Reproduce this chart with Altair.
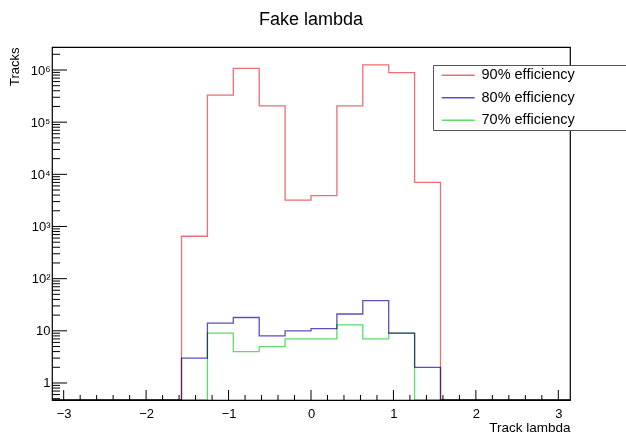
import numpy as np
import pandas as pd
import altair as alt

# ---------------- data ----------------
series = ["90% efficiency", "80% efficiency", "70% efficiency"]
colors = ["#ee6e72", "#5b4fc4", "#5ddc6c"]

n_bins = 20
x_lo, x_hi = -np.pi, np.pi
edges = np.linspace(x_lo, x_hi, n_bins + 1)

eff90 = [0, 0, 0, 0, 0, 650, 330000, 1070000, 205000, 3200,
         3900, 205000, 1250000, 890000, 7000, 0, 0, 0, 0, 0]
eff80 = [0, 0, 0, 0, 0, 3, 14, 18, 8, 10,
         11, 21, 38, 9, 2, 0, 0, 0, 0, 0]
eff70 = [0, 0, 0, 0, 0, 0, 9, 4, 5, 7,
         7, 13, 7, 9, 0, 0, 0, 0, 0, 0]

y_lo, y_hi = 0.472, 2.76e6

x_major = [-3, -2, -1, 0, 1, 2, 3]
x_minor = [v / 10 for v in range(-30, 31, 2) if v % 10 != 0]
y_major = [1, 10, 100, 1e3, 1e4, 1e5, 1e6]
y_minor = [m * 10.0 ** k for k in range(-1, 7) for m in range(2, 10)
           if y_lo <= m * 10.0 ** k <= y_hi]

title_text = "Fake lambda"
x_title = "Track lambda"
y_title = "Tracks"

# ---------------- tables ----------------
rows = []
for name, counts in zip(series, [eff90, eff80, eff70]):
    vals = list(counts) + [counts[-1]]
    for e, c in zip(edges, vals):
        rows.append({"series": name, "edge": float(e), "count": c})
hist = pd.DataFrame(rows)

FONT = "Liberation Sans"
W, H = 518, 353

xscale = alt.Scale(domain=[x_lo, x_hi], nice=False, zero=False)
yscale = alt.Scale(type="log", domain=[y_lo, y_hi], nice=False)

x_axis = alt.Axis(values=x_major, title=x_title, ticks=False, domain=False,
                  grid=False, labelPadding=17, labelBaseline="alphabetic",
                  labelFontSize=13, labelFont=FONT, labelColor="black",
                  titleFont=FONT, titleFontSize=13.5, titleFontWeight="normal",
                  titleAlign="right", titleBaseline="alphabetic",
                  titleX=W, titleY=31, titleColor="black")
y_axis = alt.Axis(values=y_major, title=y_title, ticks=False, domain=False,
                  grid=False, labelPadding=2, labelBaseline="middle",
                  labelFontSize=13, labelFont=FONT, labelColor="black",
                  labelExpr="datum.value < 1.5 ? '1' : datum.value < 15 ? '10' : "
                            "'10' + substring('⁰¹²³⁴⁵⁶⁷⁸⁹', round(log(datum.value)/LN10), round(log(datum.value)/LN10) + 1)",
                  titleFont=FONT, titleFontSize=13, titleFontWeight="normal",
                  titleAngle=270, titleAlign="right", titleBaseline="alphabetic",
                  titleX=-34, titleY=0, titleColor="black")

lines = alt.Chart(hist).transform_calculate(
    yv=f"max(datum.count, {y_lo})"
).mark_line(interpolate="step-after", strokeWidth=1.3, blend="multiply").encode(
    x=alt.X("edge:Q", scale=xscale, axis=x_axis),
    y=alt.Y("yv:Q", scale=yscale, axis=y_axis),
    color=alt.Color("series:N", sort=series,
                    scale=alt.Scale(domain=series, range=colors),
                    legend=alt.Legend(orient="none", legendX=381, legendY=18,
                                      title="l", titleOrient="right", titleOpacity=0,
                                      titleFontSize=14.5, titlePadding=46,
                                      fillColor="white", strokeColor="#555", padding=3,
                                      symbolType="M-3,0H3", symbolSize=121,
                                      symbolOffset=15,
                                      symbolStrokeWidth=1.6, labelFont=FONT,
                                      labelFontSize=14.5, labelOffset=16, rowPadding=7.5,
                                      labelColor="black")),
)

ymaj = alt.Chart(pd.DataFrame({"v": y_major})).mark_rule(color="black", strokeWidth=1).encode(
    y=alt.Y("v:Q", scale=yscale, axis=y_axis), x=alt.value(0), x2=alt.value(15))
ymin = alt.Chart(pd.DataFrame({"v": y_minor})).mark_rule(color="black", strokeWidth=1).encode(
    y=alt.Y("v:Q", scale=yscale, axis=y_axis), x=alt.value(0), x2=alt.value(8))
xmaj = alt.Chart(pd.DataFrame({"v": x_major})).mark_rule(color="black", strokeWidth=1).encode(
    x=alt.X("v:Q", scale=xscale, axis=x_axis), y=alt.value(H), y2=alt.value(H - 10))
xmin = alt.Chart(pd.DataFrame({"v": x_minor})).mark_rule(color="black", strokeWidth=1).encode(
    x=alt.X("v:Q", scale=xscale, axis=x_axis), y=alt.value(H), y2=alt.value(H - 5))

chart = alt.layer(ymaj, ymin, xmaj, xmin, lines).properties(
    width=W, height=H,
    padding={"left": 52, "top": 47, "right": 56, "bottom": 34},
    autosize=alt.AutoSizeParams(type="none"),
    title=alt.TitleParams(title_text, font=FONT, fontSize=18, fontWeight="normal",
                          anchor="middle", frame="group", offset=18,
                          color="black"),
).configure(background="white").configure_view(stroke="black", strokeWidth=1.2)

chart.save("out.html", embed_options={"renderer": "svg", "actions": False})
